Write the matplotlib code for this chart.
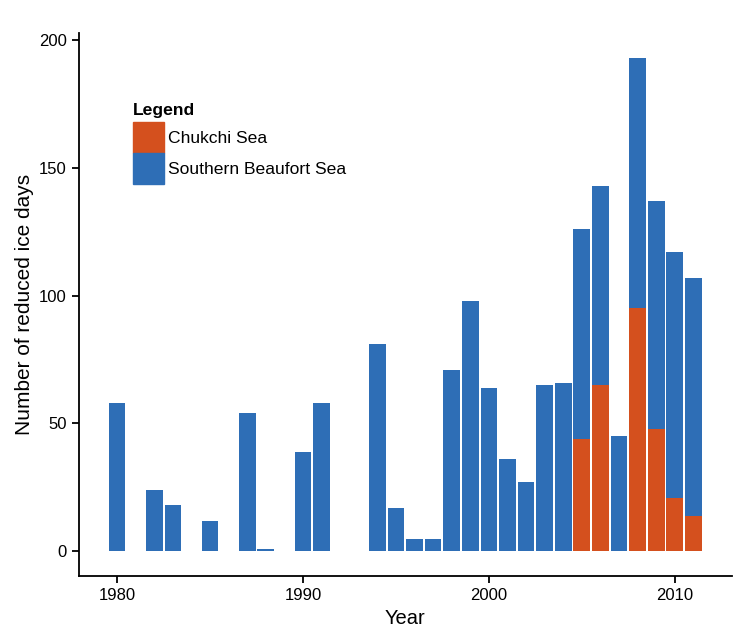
import matplotlib
matplotlib.use("Agg")
import matplotlib.pyplot as plt
from matplotlib.patches import Patch

plt.rcParams['font.family'] = ['Liberation Sans', 'DejaVu Sans']

# total reduced ice days per year (Southern Beaufort bar height)
beaufort_years = [1980, 1982, 1983, 1985, 1987, 1988, 1990, 1991, 1994, 1995,
                  1996, 1997, 1998, 1999, 2000, 2001, 2002, 2003, 2004, 2005,
                  2006, 2007, 2008, 2009, 2010, 2011]
beaufort_days = [58, 24, 18, 12, 54, 1, 39, 58, 81, 17,
                 5, 5, 71, 98, 64, 36, 27, 65, 66, 126,
                 143, 45, 193, 137, 117, 107]

chukchi_years = [2005, 2006, 2008, 2009, 2010, 2011]
chukchi_days = [44, 65, 95, 48, 21, 14]

blue = '#2E6EB6'
orange = '#D4501E'

fig = plt.figure(figsize=(7.45, 6.36), dpi=100)
ax = fig.add_axes([79 / 745, 60 / 636, 652.5 / 745, 543 / 636])

ax.bar(beaufort_years, beaufort_days, width=0.9, color=blue, linewidth=0)
ax.bar(chukchi_years, chukchi_days, width=0.9, color=orange, linewidth=0)

ax.set_xlim(1977.95, 2013.05)
ax.set_ylim(-9.65, 202.65)
ax.set_xticks([1980, 1990, 2000, 2010])
ax.set_yticks([0, 50, 100, 150, 200])

for s in ['top', 'right']:
    ax.spines[s].set_visible(False)
for s in ['left', 'bottom']:
    ax.spines[s].set_linewidth(1.3)
ax.tick_params(direction='out', length=5, width=1.3, labelsize=12, pad=4)

ax.set_xlabel('Year', fontsize=14.5, labelpad=4)
ax.set_ylabel('Number of reduced ice days', fontsize=15)
ax.yaxis.set_label_coords(-0.069, 0.5)

# legend: title as its own text, keys touching below it
fig.text(133 / 745, 1 - 115 / 636, 'Legend', fontsize=12.6, fontweight='bold',
         ha='left', va='baseline')
handles = [Patch(color=orange, label='Chukchi Sea'),
           Patch(color=blue, label='Southern Beaufort Sea')]
fig.legend(handles=handles, loc='upper left',
           bbox_to_anchor=(133 / 745, 1 - 122 / 636), frameon=False,
           fontsize=12.6, handlelength=1.77, handleheight=2.35, labelspacing=0,
           handletextpad=0.23, borderpad=0, borderaxespad=0)

fig.savefig('out.png', dpi=100)
